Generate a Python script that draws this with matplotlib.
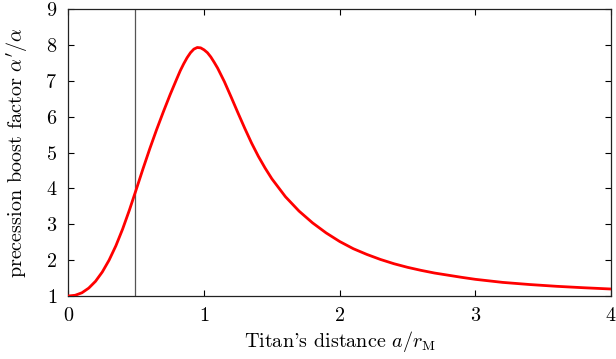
import matplotlib
matplotlib.use("Agg")
import matplotlib.pyplot as plt

plt.rcParams['font.family'] = 'serif'
plt.rcParams['font.serif'] = ['cmr10', 'DejaVu Serif']
plt.rcParams['mathtext.fontset'] = 'cm'
plt.rcParams['axes.formatter.use_mathtext'] = True

# Values
distance = [0.0, 0.05, 0.1, 0.15, 0.2, 0.25, 0.3, 0.35, 0.4, 0.45, 0.5, 0.55,
            0.6, 0.65, 0.7, 0.75, 0.8, 0.825, 0.85, 0.875, 0.9, 0.925, 0.95,
            0.975, 1.0, 1.025, 1.05, 1.075, 1.1, 1.15,
            1.2, 1.25, 1.3, 1.35, 1.4, 1.45, 1.5, 1.6, 1.7, 1.8, 1.9, 2.0,
            2.1, 2.2, 2.3, 2.4, 2.5, 2.6, 2.7, 2.8, 2.9, 3.0, 3.2, 3.4, 3.6,
            3.8, 4.0]
boost = [1.00, 1.02, 1.09, 1.22, 1.41, 1.67, 2.00, 2.40, 2.87, 3.40, 3.97, 4.55,
         5.11, 5.64, 6.14, 6.62, 7.07, 7.29, 7.48, 7.65, 7.79, 7.89, 7.935,
         7.925, 7.87, 7.79, 7.67, 7.52, 7.36, 6.98,
         6.55, 6.11, 5.68, 5.27, 4.90, 4.57, 4.27, 3.77, 3.37, 3.04, 2.76, 2.52,
         2.32, 2.16, 2.02, 1.90, 1.80, 1.715, 1.64, 1.58, 1.52, 1.465, 1.38,
         1.32, 1.27, 1.23, 1.195]
marker_x = 0.49
xticks = [0, 1, 2, 3, 4]
yticks = [1, 2, 3, 4, 5, 6, 7, 8, 9]

fig = plt.figure(figsize=(6.16, 3.59), dpi=100)
ax = fig.add_axes([0.111, 0.1755, 0.881, 0.7985])
ax.plot(distance, boost, color='#ff0000', lw=2.0, solid_capstyle='round',
        solid_joinstyle='round', zorder=3)
ax.axvline(marker_x, color='#555555', lw=0.9, zorder=2)

ax.set_xlim(0, 4)
ax.set_ylim(1, 9)
ax.set_xticks(xticks)
ax.set_yticks(yticks)
ax.tick_params(direction='in', length=4, width=0.8, top=True, right=True,
               labelsize=14.5, pad=8)
for s in ax.spines.values():
    s.set_linewidth(0.9)
    s.set_color('#222222')

ax.set_xlabel(r"Titan's distance $a/r_{\rm M}$", fontsize=14.5, labelpad=3)
ax.set_ylabel(r"precession boost factor $\alpha'/\alpha$", fontsize=14.5, labelpad=11)

fig.savefig("out.png", dpi=100)
